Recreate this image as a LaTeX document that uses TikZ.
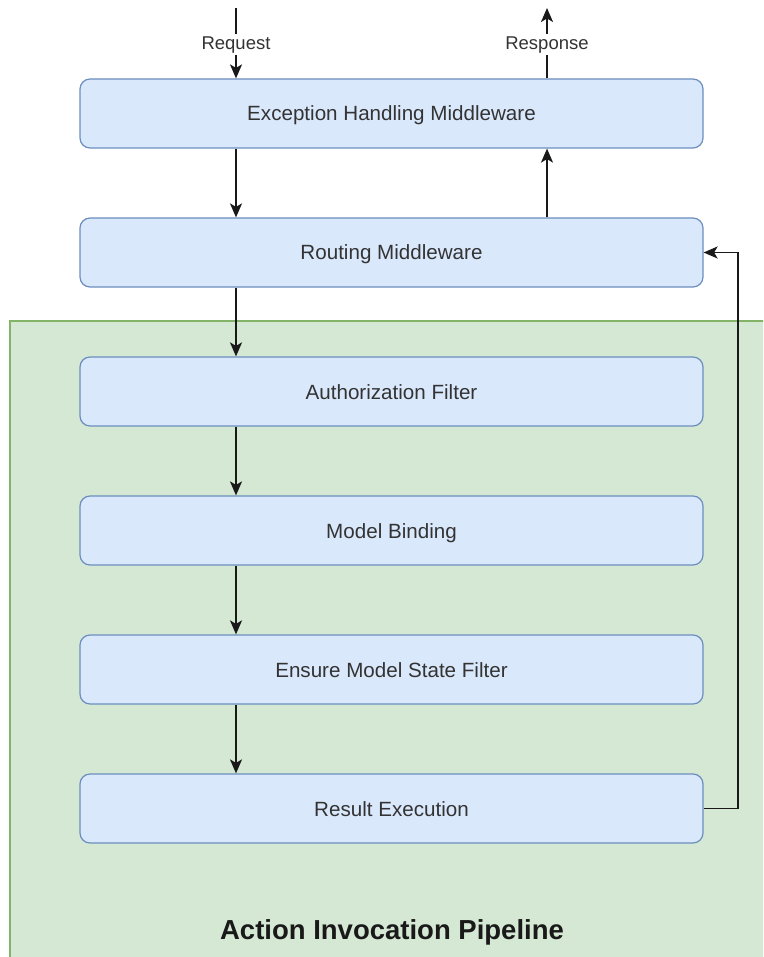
\documentclass[tikz,border=0pt]{standalone}
\usepackage{fontspec}
\setmainfont{Liberation Sans}
\usetikzlibrary{arrows.meta}
\definecolor{stepfill}{HTML}{DAE8FC}
\definecolor{stepline}{HTML}{6C8EBF}
\definecolor{groupfill}{HTML}{D5E8D4}
\definecolor{groupline}{HTML}{82B366}
\begin{document}
\begin{tikzpicture}[x=1pt,y=-1pt,
  stepbox/.style={draw=stepline, fill=stepfill, line width=1.2pt, rounded corners=10pt,
    minimum width=623pt, minimum height=69pt, inner sep=0pt, text height=15pt, text depth=0pt,
    font=\fontsize{20.6}{22}\selectfont, text=black!80},
  flow/.style={draw=black!90, line width=1.7pt, -{Stealth[length=14pt,width=12pt,inset=3.5pt]}},
  edgelabel/.style={fill=white, inner sep=2pt, font=\fontsize{18.5}{20}\selectfont, text=black!80}]
\useasboundingbox (0,0) rectangle (763,957);
\begin{scope}
  \clip (0,0) rectangle (763,957);
  \draw[groupline, fill=groupfill, line width=1.2pt] (10,321) rectangle (790,990);
\end{scope}
\node[font=\bfseries\fontsize{27.5}{30}\selectfont, text=black!90] (title) at (392,932) {Action Invocation Pipeline};

\node[stepbox] (exc) at (391.5,113.5) {Exception Handling Middleware};
\node[stepbox] (rout) at (391.5,252.5) {Routing Middleware};
\node[stepbox] (auth) at (391.5,391.5) {Authorization Filter};
\node[stepbox] (bind) at (391.5,530.5) {Model Binding};
\node[stepbox] (ens) at (391.5,669.5) {Ensure Model State Filter};
\node[stepbox] (res) at (391.5,808.5) {Result Execution};

\coordinate (reqin) at (236,8);
\coordinate (respout) at (547,8);
\coordinate (loopb) at (738,808.5);
\coordinate (loopt) at (738,252.5);

\draw[flow] (reqin) -- node[edgelabel, pos=0.52] {Request} (reqin |- exc.north);
\draw[flow] (respout |- exc.north) -- node[edgelabel, pos=0.48] {Response} (respout);
\draw[flow] (reqin |- exc.south) -- (reqin |- rout.north);
\draw[flow] (respout |- rout.north) -- (respout |- exc.south);
\draw[flow] (reqin |- rout.south) -- (reqin |- auth.north);
\draw[flow] (reqin |- auth.south) -- (reqin |- bind.north);
\draw[flow] (reqin |- bind.south) -- (reqin |- ens.north);
\draw[flow] (reqin |- ens.south) -- (reqin |- res.north);
\draw[flow] (res.east) -- (loopb) -- (loopt) -- (rout.east);
\end{tikzpicture}
\end{document}
